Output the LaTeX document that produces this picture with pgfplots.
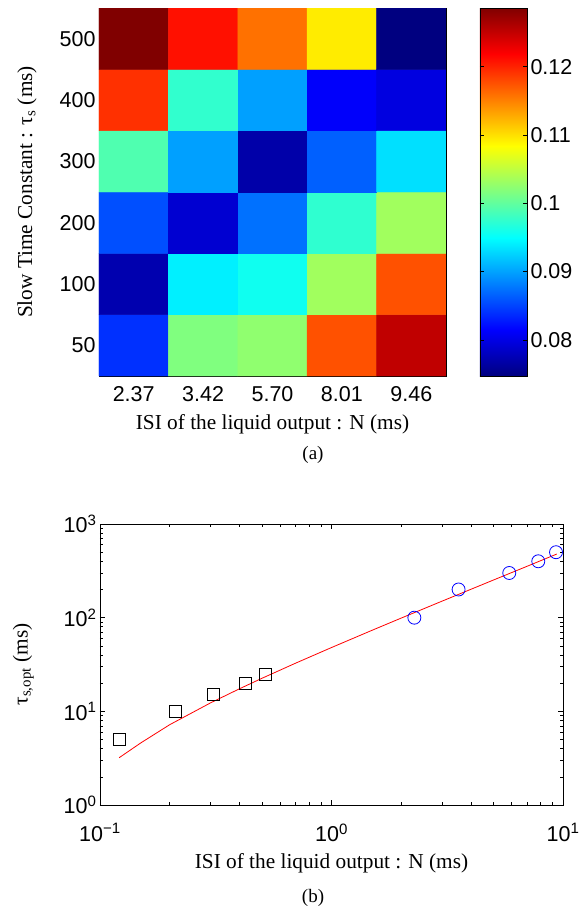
\documentclass[border=0pt]{standalone}
\usepackage{fontspec}
\setmainfont{Liberation Serif}
\newfontfamily\ticksf{Liberation Sans}
\usepackage{pgfplots}
\pgfplotsset{compat=1.18}
\usepackage{pgfplotstable}

\pgfplotstableread{
x y c
0 0 0.0840
1 0 0.1017
2 0 0.1025
3 0 0.1176
4 0 0.1252
0 1 0.0772
1 1 0.0941
2 1 0.0957
3 1 0.1034
4 1 0.1176
0 2 0.0856
1 2 0.0790
2 2 0.0874
3 2 0.0974
4 2 0.1034
0 3 0.0991
1 3 0.0899
2 3 0.0769
3 3 0.0865
4 3 0.0933
0 4 0.1193
1 4 0.0975
2 4 0.0899
3 4 0.0812
4 4 0.0798
0 5 0.1286
1 5 0.1210
2 5 0.1159
3 5 0.1094
4 5 0.0747
}\heatdata

\pgfplotstableread{
x y
0.121 5
0.211 10
0.308 15
0.423 20
0.517 25
}\squaredata

\pgfplotstableread{
x y
2.28 100
3.54 200
5.86 300
7.82 400
9.33 500
}\circledata

\pgfplotstableread{
x y
0.121 3.2
0.15 4.6
0.2 7.2
0.3 12.3
0.4 17.4
0.5 22.5
0.7 32.7
1.0 48
1.5 73.5
2.0 99
3.0 150
5.0 252
7.0 354
9.4 478
}\fitdata

\begin{document}
\begin{tikzpicture}
\useasboundingbox (0pt,0pt) rectangle (585pt,-910pt);
\begin{axis}[
  at={(99pt,-376pt)}, anchor=south west,
  scale only axis, width=347pt, height=368pt,
  xmin=-0.5, xmax=4.5, ymin=-0.5, ymax=5.5,
  xtick={0,1,2,3,4}, xticklabels={2.37,3.42,5.70,8.01,9.46},
  ytick={0,1,2,3,4,5}, yticklabels={50,100,200,300,400,500},
  tick align=inside, major tick length=4pt,
  tick style={black, line width=0.6pt},
  axis line style={line width=0.8pt},
  ticklabel style={font=\fontsize{21.5}{23}\ticksf},
  xticklabel style={yshift=-7pt},
  xlabel={ISI of the liquid output : N (ms)},
  ylabel={Slow Time Constant : τ\textsubscript{s} (ms)},
  label style={font=\fontsize{21.3}{23}\selectfont},
  ylabel shift=16pt,
  xlabel shift=6pt,
  colormap/jet,
  point meta min=0.0747, point meta max=0.1286,
  colorbar right,
  colorbar/width=47pt,
  colorbar shift/.style={xshift=34pt},
  colorbar style={
    at={(parent axis.north east)}, anchor=north west,
    ytick={0.08,0.09,0.1,0.11,0.12},
    yticklabels={0.08,0.09,0.1,0.11,0.12},
    yticklabel style={font=\fontsize{21.5}{23}\ticksf},
    tick align=inside, major tick length=4pt,
    tick style={black, line width=0.6pt},
    axis line style={line width=0.8pt},
  },
]
\addplot[matrix plot*, mesh/cols=5, point meta=explicit] table[meta=c] {\heatdata};
\end{axis}
\node[font=\fontsize{19}{20}\selectfont] at (313pt,-455pt) {(a)};

\begin{axis}[
  at={(100pt,-805pt)}, anchor=south west,
  scale only axis, width=463pt, height=281pt,
  xmode=log, ymode=log,
  xmin=0.1, xmax=10, ymin=1, ymax=1000,
  xtick={0.1,1,10},
  xticklabels={10\textsuperscript{−1},10\textsuperscript{0},10\textsuperscript{1}},
  ytick={1,10,100,1000},
  yticklabels={10\textsuperscript{0},10\textsuperscript{1},10\textsuperscript{2},10\textsuperscript{3}},
  tick align=inside, major tick length=5pt, minor tick length=3pt,
  tick style={black, line width=0.6pt},
  axis line style={line width=0.8pt},
  ticklabel style={font=\fontsize{21.5}{23}\ticksf},
  xticklabel style={yshift=-15pt},
  xlabel={ISI of the liquid output : N (ms)},
  ylabel={τ\textsubscript{s,opt} (ms)},
  label style={font=\fontsize{21.3}{23}\selectfont},
  ylabel shift=23pt,
  xlabel shift=5pt,
]
\addplot[red, line width=0.8pt] table {\fitdata};
\addplot[only marks, mark=square, mark size=6pt, black, line width=0.8pt] table {\squaredata};
\addplot[only marks, mark=o, mark size=6.5pt, blue, line width=0.8pt] table {\circledata};
\end{axis}
\node[font=\fontsize{19}{20}\selectfont] at (313pt,-898pt) {(b)};
\end{tikzpicture}
\end{document}
